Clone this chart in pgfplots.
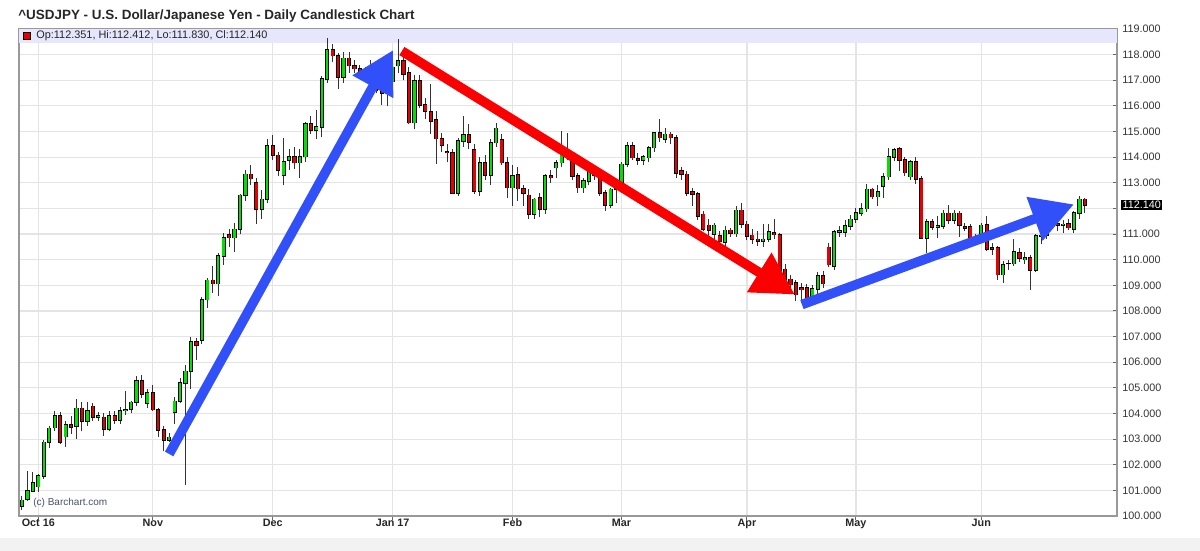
\documentclass[border=0pt]{standalone}
\usepackage{fontspec}
\setmainfont{Liberation Sans}
\usepackage{pgfplots}
\usepackage{pgfplotstable}
\pgfplotsset{compat=1.18}
\usetikzlibrary{arrows.meta}

\definecolor{candlegreen}{RGB}{0,225,0}
\definecolor{candlered}{RGB}{230,0,0}
\definecolor{arrowblue}{RGB}{50,80,250}
\definecolor{arrowred}{RGB}{250,0,0}
\definecolor{infobar}{RGB}{230,230,252}
\definecolor{gridgray}{RGB}{228,228,228}
\definecolor{copygray}{RGB}{70,80,110}

% daily USDJPY candles, index = trading day from 28 Sep 2016
\pgfplotstableread{
i O H L C
0 100.39 100.78 100.23 100.61
1 100.65 101.76 100.58 100.98
2 100.98 101.70 100.92 101.28
3 101.15 101.65 100.95 101.56
4 101.56 102.95 101.45 102.87
5 102.87 103.52 102.65 103.42
6 103.45 104.10 103.33 103.90
7 103.90 104.05 102.80 102.87
8 103.10 103.72 102.70 103.56
9 103.56 103.90 103.20 103.48
10 103.52 104.57 103.00 104.20
11 104.20 104.45 103.30 103.69
12 103.69 104.45 103.52 104.10
13 104.28 104.40 103.70 103.85
14 103.85 104.05 103.70 103.90
15 103.85 104.00 103.13 103.39
16 103.39 104.10 103.30 103.92
17 103.92 104.08 103.60 103.75
18 103.75 104.25 103.60 104.10
19 104.12 104.88 103.95 104.14
20 104.17 104.50 104.00 104.43
21 104.43 105.45 104.30 105.27
22 105.27 105.50 104.60 104.75
23 104.40 104.95 104.20 104.80
24 104.80 105.10 104.10 104.15
25 104.15 104.20 103.10 103.35
26 103.35 103.50 102.55 102.97
27 102.97 103.25 102.90 103.07
28 104.04 104.65 103.60 104.47
29 104.47 105.38 104.40 105.19
30 105.19 105.90 101.20 105.64
31 105.64 107.00 104.95 106.79
32 106.79 106.95 106.10 106.68
33 106.85 108.54 106.70 108.44
34 108.44 109.30 108.10 109.19
35 109.19 109.75 108.70 109.07
36 109.07 110.25 108.60 110.14
37 110.14 111.05 109.80 110.86
38 110.98 111.20 110.50 110.86
39 110.86 111.45 110.30 111.18
40 111.18 112.55 111.00 112.51
41 112.51 113.50 112.30 113.33
42 113.33 113.70 112.90 113.16
43 113.00 113.20 111.40 111.96
44 111.96 112.70 111.60 112.35
45 112.35 114.70 112.20 114.44
46 114.44 114.85 113.90 114.07
47 114.07 114.20 113.25 113.50
48 113.29 114.76 112.90 113.81
49 113.88 114.30 113.50 114.02
50 114.02 114.40 113.55 113.79
51 113.79 114.30 113.20 114.02
52 114.02 115.37 113.80 115.31
53 115.31 115.60 114.90 115.06
54 115.05 115.85 114.70 115.18
55 115.18 117.17 114.80 117.04
56 117.04 118.66 116.90 118.19
57 118.19 118.40 117.70 117.96
58 117.96 118.05 116.65 117.11
59 117.11 118.10 116.90 117.85
60 117.85 118.10 117.30 117.57
61 117.57 117.80 117.30 117.45
62 117.45 117.60 117.10 117.30
63 117.30 117.50 117.05 117.35
64 117.35 117.80 117.00 117.20
65 117.20 117.40 116.50 116.60
66 116.60 116.90 116.05 116.50
67 116.50 117.20 116.00 116.95
68 116.95 117.60 116.60 117.50
69 117.57 118.60 117.30 117.76
70 117.76 117.90 117.00 117.24
71 117.30 117.50 115.30 115.35
72 115.35 117.20 115.10 116.98
73 116.98 117.20 115.90 116.03
74 116.03 116.30 115.50 115.81
75 115.77 116.85 114.90 115.42
76 115.45 115.80 113.75 114.72
77 114.72 114.95 114.20 114.46
78 114.20 114.50 113.80 114.18
79 114.18 114.30 112.55 112.61
80 112.61 114.75 112.50 114.63
81 114.63 115.60 114.40 114.86
82 114.86 115.30 114.30 114.59
83 114.28 114.50 112.55 112.68
84 112.68 114.00 112.50 113.79
85 113.79 114.10 113.10 113.29
86 113.29 114.70 112.90 114.57
87 114.57 115.35 114.40 115.12
88 114.67 114.90 113.70 113.79
89 113.79 114.00 112.40 112.81
90 112.81 113.70 112.10 113.27
91 113.30 113.60 112.30 112.77
92 112.77 112.90 112.10 112.61
93 112.51 112.75 111.60 111.77
94 111.77 112.40 111.60 112.35
95 112.42 112.60 111.65 111.96
96 111.96 113.35 111.80 113.27
97 113.27 113.50 113.00 113.20
98 113.59 113.90 113.20 113.79
99 113.79 115.02 113.60 114.11
100 114.11 114.95 113.90 114.20
101 113.91 114.10 113.10 113.27
102 113.27 113.40 112.60 112.81
103 112.81 113.20 112.60 113.07
104 113.07 113.60 112.90 113.53
105 113.53 113.70 113.10 113.30
106 113.27 113.35 112.50 112.61
107 112.61 112.70 111.90 112.13
108 112.13 112.80 112.00 112.74
109 112.74 112.90 112.20 112.80
110 112.74 113.80 112.60 113.72
111 113.72 114.60 113.60 114.44
112 114.44 114.60 113.90 113.98
113 113.92 114.15 113.70 113.88
114 113.88 114.10 113.70 114.01
115 113.98 114.45 113.80 114.37
116 114.37 115.00 114.20 114.96
117 114.96 115.50 114.60 114.76
118 114.70 115.15 114.55 114.89
119 114.89 115.00 114.50 114.76
120 114.76 114.85 113.20 113.37
121 113.46 113.60 113.10 113.33
122 113.33 113.45 112.50 112.61
123 112.64 112.80 112.10 112.57
124 112.57 112.65 111.55 111.70
125 111.77 111.90 111.10 111.18
126 111.34 111.60 110.90 111.15
127 110.99 111.45 110.70 111.34
128 110.92 111.10 110.55 110.72
129 110.69 111.30 110.50 111.14
130 111.14 111.25 110.90 111.05
131 111.02 112.10 110.90 111.92
132 111.92 112.20 111.25 111.38
133 111.38 111.50 110.75 110.92
134 110.95 111.20 110.60 110.79
135 110.79 111.10 110.55 110.72
136 110.72 111.40 110.50 110.79
137 110.79 111.40 110.70 111.08
138 111.05 111.60 110.80 110.98
139 110.98 111.05 109.40 109.49
140 109.62 109.85 109.15 109.23
141 109.23 109.40 108.90 109.03
142 109.10 109.20 108.38 108.64
143 108.90 109.10 108.30 108.83
144 108.90 109.05 108.35 108.44
145 108.47 109.00 108.30 108.86
146 108.86 109.50 108.60 109.36
147 109.36 109.55 108.90 109.07
148 110.48 110.65 109.70 109.81
149 109.75 111.15 109.60 111.08
150 111.08 111.30 110.90 111.12
151 111.08 111.55 110.90 111.31
152 111.31 111.75 111.15 111.57
153 111.57 112.00 111.45 111.83
154 111.83 112.20 111.70 111.99
155 111.99 112.95 111.85 112.74
156 112.74 112.80 112.35 112.46
157 112.46 112.90 112.10 112.64
158 112.87 113.40 112.40 113.24
159 113.24 114.37 113.10 114.01
160 114.01 114.37 113.85 114.28
161 114.31 114.40 113.45 113.88
162 113.88 114.00 113.25 113.40
163 113.24 113.90 113.10 113.81
164 113.81 114.00 112.95 113.14
165 113.14 113.25 110.80 110.85
166 110.85 111.60 110.25 111.47
167 111.47 111.60 111.15 111.27
168 111.27 111.70 110.85 111.31
169 111.31 111.95 111.20 111.81
170 111.81 112.12 111.40 111.55
171 111.55 111.95 111.40 111.81
172 111.81 111.90 110.90 111.34
173 111.29 111.45 111.10 111.22
174 111.29 111.40 110.70 110.84
175 110.85 111.00 110.60 110.88
176 110.85 111.45 110.70 111.34
177 111.36 111.70 110.35 110.42
178 110.46 110.65 110.20 110.42
179 110.46 110.55 109.20 109.42
180 109.42 109.95 109.10 109.81
181 109.85 110.00 109.60 109.85
182 109.85 110.80 109.75 110.29
183 110.27 110.45 109.90 110.07
184 110.00 110.30 109.85 110.07
185 110.07 110.20 108.82 109.59
186 109.59 111.00 109.50 110.92
187 110.92 111.20 110.60 110.95
188 110.95 111.60 110.80 111.50
189 111.50 111.75 111.20 111.40
190 111.40 111.60 111.10 111.35
191 111.35 111.55 111.05 111.38
192 111.40 111.60 111.15 111.25
193 111.18 111.90 111.05 111.83
194 111.83 112.50 111.60 112.35
195 112.351 112.412 111.830 112.140
}\ohlc

\begin{document}
\begin{tikzpicture}
\useasboundingbox (-9.5bp,-17.5bp) rectangle (590.5bp,258bp);
\fill[black!5] (-9.5bp,-17.5bp) rectangle (590.5bp,-11bp);

\begin{axis}[
  at={(0,0)}, anchor=south west,
  scale only axis, width=549bp, height=243.5bp,
  xmin=-0.55, xmax=200.9, ymin=100, ymax=119,
  clip=false,
  axis line style={draw=black!40, line width=0.6bp},
  grid=major, grid style={draw=gridgray, line width=0.6bp},
  major tick length=2bp,
  tick style={draw=black!60, line width=0.5bp},
  xtick pos=left, ytick pos=right, yticklabel pos=right,
  xtick={3,24,46,68,90,110,133,153,176},
  xticklabels={Oct 16,Nov,Dec,Jan 17,Feb,Mar,Apr,May,Jun},
  xtick style={yshift=-2bp},
  xticklabel style={font=\fontsize{5.4bp}{6bp}\selectfont\bfseries, text=black!85, inner sep=0pt, anchor=base, yshift=-5bp},
  ytick={100,...,119},
  yticklabels={100.000,101.000,102.000,103.000,104.000,105.000,106.000,107.000,108.000,109.000,110.000,111.000,,113.000,114.000,115.000,116.000,117.000,118.000,119.000},
  yticklabel style={font=\fontsize{5.4bp}{6.5bp}\selectfont, text=black!80, anchor=west, inner sep=0pt, xshift=2.5bp},
  candle/.style={draw=none, mark=none, forget plot,
    error bars/y dir=plus, error bars/y explicit, error bars/error mark=none},
]
% info band at the top of the plot
\fill[infobar] (rel axis cs:0,1) rectangle ([yshift=-7bp]rel axis cs:1,1);

% wicks
\addplot[candle, error bars/error bar style={draw=black!80, line width=0.5bp}]
  table[x=i, y=L, y error plus expr=\thisrow{H}-\thisrow{L}] {\ohlc};
% body outline
\addplot[candle, error bars/error bar style={draw=black, line width=2.1bp}]
  table[x=i, y expr={min(\thisrow{O},\thisrow{C})-0.03},
        y error plus expr={abs(\thisrow{C}-\thisrow{O})+0.06}] {\ohlc};
% up bodies
\addplot[candle, error bars/error bar style={draw=candlegreen, line width=1.2bp}]
  table[x=i, y=O, y error plus expr={max(\thisrow{C}-\thisrow{O},0)}] {\ohlc};
% down bodies
\addplot[candle, error bars/error bar style={draw=candlered, line width=1.2bp}]
  table[x=i, y=C, y error plus expr={max(\thisrow{O}-\thisrow{C},0)}] {\ohlc};

% trend arrows
\draw[arrowblue, line width=4.8bp, -{Triangle[length=21bp,width=22bp]}]
  (axis cs:27.0,102.42) -- (axis cs:68.1,118.18);
\draw[arrowred, line width=4.8bp, -{Triangle[length=21bp,width=22bp]}]
  (axis cs:69.7,118.14) -- (axis cs:141.8,108.64);
\draw[arrowblue, line width=4.8bp, -{Triangle[length=21bp,width=22bp]}]
  (axis cs:143.1,108.25) -- (axis cs:193.0,112.16);

% last price tag
\node[fill=black, text=white, inner sep=0.6bp, anchor=west,
  font=\fontsize{5.4bp}{6.5bp}\selectfont]
  at ([xshift=2bp]axis cs:200.9,112.14) {112.140};

\node[anchor=west, inner sep=0pt, text=copygray, font=\fontsize{5bp}{6bp}\selectfont]
  at ([xshift=7bp, yshift=6.5bp]rel axis cs:0,0) {(c) Barchart.com};

% OHLC readout
\node[draw=black, fill=candlered, minimum size=3.6bp, inner sep=0pt, line width=0.4bp]
  at ([xshift=4bp, yshift=-3.5bp]rel axis cs:0,1) {};
\node[anchor=west, inner sep=0pt, text=black!85, font=\fontsize{5.45bp}{6.5bp}\selectfont]
  at ([xshift=8.5bp, yshift=-3.5bp]rel axis cs:0,1) {Op:112.351, Hi:112.412, Lo:111.830, Cl:112.140};
\end{axis}

\node[anchor=west, inner sep=0pt, font=\fontsize{6.72bp}{7.5bp}\selectfont\bfseries, text=black!85]
  at (-0.5bp,249.75bp) {\^{}USDJPY - U.S. Dollar/Japanese Yen - Daily Candlestick Chart};
\end{tikzpicture}
\end{document}
